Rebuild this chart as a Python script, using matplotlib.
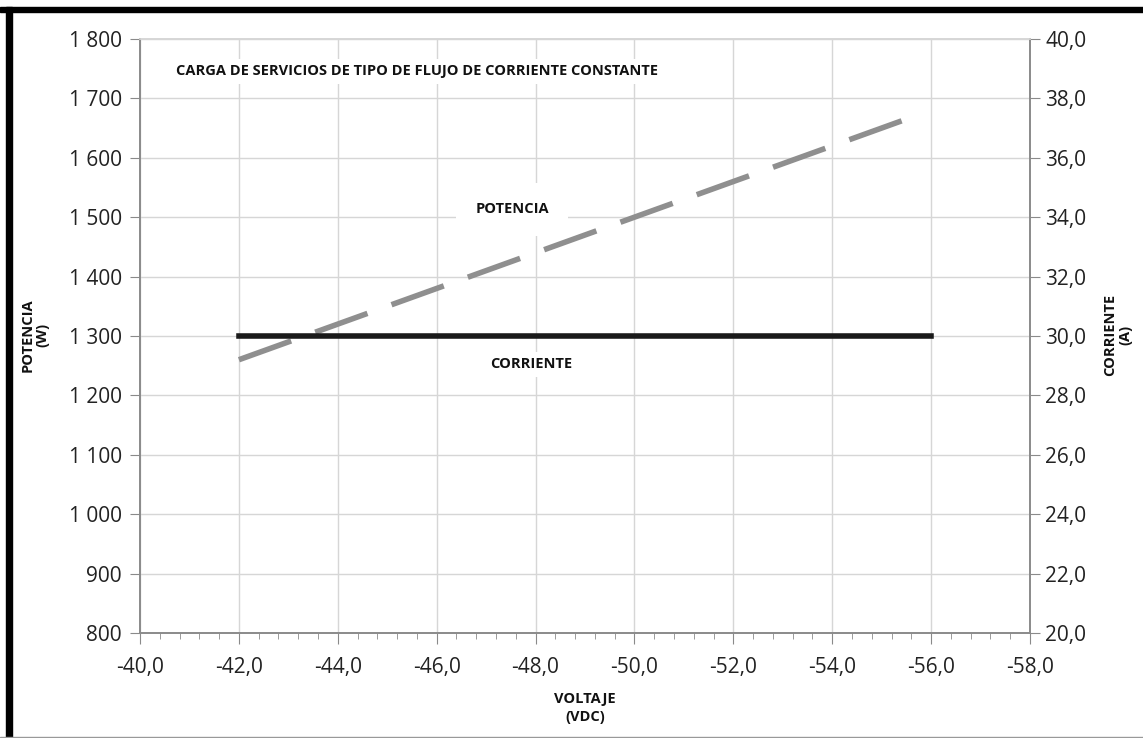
import matplotlib
matplotlib.use("Agg")
import matplotlib.pyplot as plt
from matplotlib.ticker import MultipleLocator, FuncFormatter
from matplotlib.patches import Rectangle

# datos
voltaje_pot = [-42.0, -55.6]
potencia = [1260, 1668]
voltaje_cor = [-42.0, -56.0]
corriente = [30.0, 30.0]

plt.rcParams['font.family'] = ['Open Sans', 'DejaVu Sans']

fig = plt.figure(figsize=(11.43, 7.38), dpi=100)
ax = fig.add_axes([0.1225, 0.1423, 0.7786, 0.8049])
ax2 = ax.twinx()

ax.plot(voltaje_pot, potencia, color='#8f8f8f', lw=4, dashes=(10, 4.6), zorder=3)
ax2.plot(voltaje_cor, corriente, color='#1a1a1a', lw=4, zorder=3)

ax.set_xlim(-40, -58)
ax.set_ylim(800, 1800)
ax2.set_ylim(20, 40)

ax.xaxis.set_major_locator(MultipleLocator(2))
ax.xaxis.set_minor_locator(MultipleLocator(0.4))
ax.yaxis.set_major_locator(MultipleLocator(100))
ax2.yaxis.set_major_locator(MultipleLocator(2))

ax.xaxis.set_major_formatter(FuncFormatter(lambda v, p: f"{v:.1f}".replace('.', ',')))
ax.yaxis.set_major_formatter(FuncFormatter(lambda v, p: f"{int(v):,}".replace(',', ' ')))
ax2.yaxis.set_major_formatter(FuncFormatter(lambda v, p: f"{v:.1f}".replace('.', ',')))

ax.grid(True, which='major', color='#d6d6d6', lw=1)
ax.set_axisbelow(True)

for a in (ax, ax2):
    for s in a.spines.values():
        s.set_color('#8a8a8a')
        s.set_linewidth(1.2)
    a.spines['top'].set_color('#d6d6d6')

ax.tick_params(axis='x', which='major', length=8, color='#8a8a8a', labelsize=15, pad=9, labelcolor='#222222')
ax.tick_params(axis='x', which='minor', length=4, color='#8a8a8a')
ax.tick_params(axis='y', length=7, color='#8a8a8a', labelsize=15, pad=6, labelcolor='#222222')
ax2.tick_params(axis='y', length=7, color='#8a8a8a', labelsize=15, pad=4, labelcolor='#222222')

bold = dict(fontweight='bold', fontsize=10.5, color='#111111', family=['Open Sans', 'DejaVu Sans'])
fig.text(35 / 1143, 1 - 335 / 738, "POTENCIA\n(W)", rotation=90, ha='center', va='center',
         linespacing=1.1, **bold)
fig.text(1118 / 1143, 1 - 335 / 738, "CORRIENTE\n(A)", rotation=90, ha='center', va='center',
         linespacing=1.1, **bold)
fig.text(585 / 1143, 1 - 708 / 738, "VOLTAJE\n(VDC)", ha='center', va='center',
         linespacing=1.3, **bold)

box = dict(facecolor='white', edgecolor='none', pad=4)
ax.text(0.04, 0.946, "CARGA DE SERVICIOS DE TIPO DE FLUJO DE CORRIENTE CONSTANTE",
        transform=ax.transAxes, ha='left', va='center', bbox=box, zorder=4, **bold)
ax.text(0.418, 0.713, "POTENCIA", transform=ax.transAxes, ha='center', va='center',
        bbox=dict(facecolor='white', edgecolor='none', pad=14), zorder=4, **bold)
ax.text(0.44, 0.452, "CORRIENTE", transform=ax.transAxes, ha='center', va='center',
        bbox=box, zorder=4, **bold)

# marco negro de la imagen
fig.patches.append(Rectangle((0, 0.984), 1, 0.006, transform=fig.transFigure, color='black'))
fig.patches.append(Rectangle((0.005, 0), 0.0055, 0.99, transform=fig.transFigure, color='black'))
fig.patches.append(Rectangle((0, 0), 1, 0.002, transform=fig.transFigure, color='#999999'))

fig.savefig('out.png', dpi=100)
